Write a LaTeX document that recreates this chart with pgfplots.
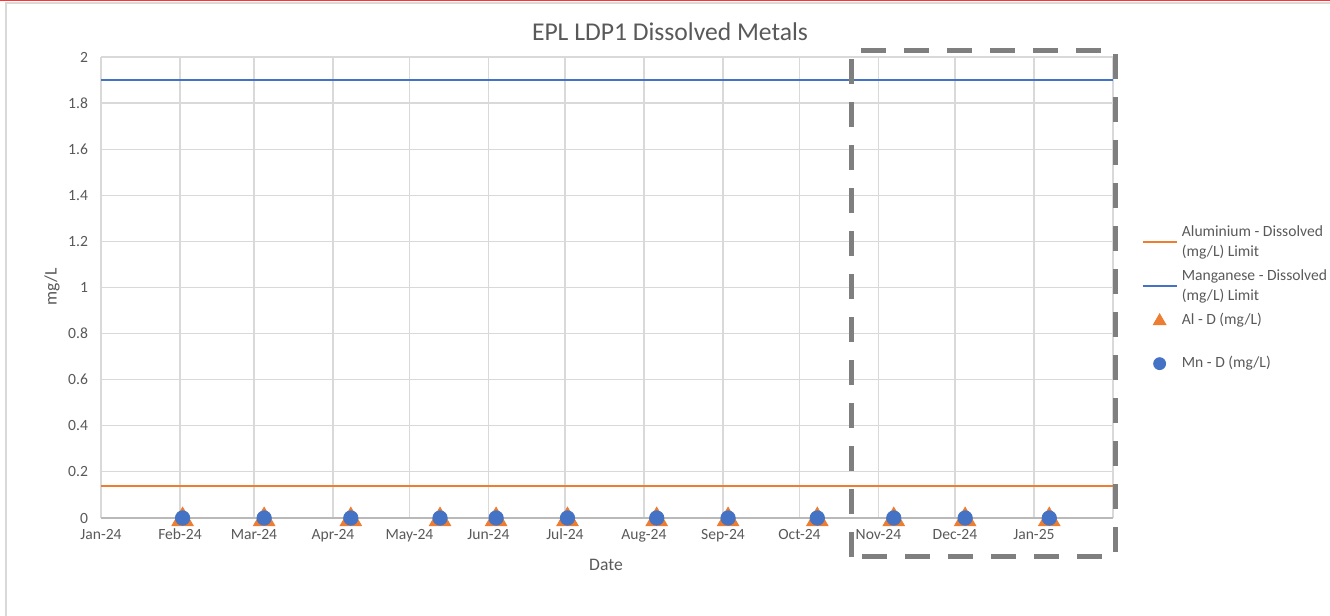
\documentclass[border=0pt]{standalone}
\usepackage{pgfplots}
\pgfplotsset{compat=1.18}
\usepackage{fontspec}
\setmainfont{Carlito}
\definecolor{xlorange}{HTML}{ED7D31}
\definecolor{xlblue}{HTML}{4472C4}
\definecolor{xlgrid}{HTML}{D9D9D9}
\definecolor{xltext}{HTML}{595959}
\definecolor{xlbox}{HTML}{7F7F7F}
\begin{document}
\begin{tikzpicture}[x=0.5pt,y=0.5pt]
% page frame, pixel coordinates (y up)
\useasboundingbox (0,0) rectangle (1330,616);
\draw[xlgrid, line width=1pt] (6,0) -- (6,613) -- (1330,613);
\draw[red!80, line width=1pt] (0,615.5) -- (1330,615.5);
\node[text=xltext, font=\fontsize{12.8}{15}\selectfont] at (670,584) {EPL LDP1 Dissolved Metals};
\node[text=xltext, font=\fontsize{8.8}{10}\selectfont] at (606,51) {Date};
\node[text=xltext, font=\fontsize{8.8}{10}\selectfont, rotate=90] at (52,329) {mg/L};
\begin{axis}[
    at={(50.5pt,49pt)}, anchor=south west,
    width=506pt, height=230.5pt, scale only axis,
    xmin=0, xmax=397, ymin=0, ymax=2,
    clip=false,
    xtick={0,31,60,91,121,152,182,213,244,274,305,335,366,397},
    xticklabels={Jan-24,Feb-24,Mar-24,Apr-24,May-24,Jun-24,Jul-24,Aug-24,Sep-24,Oct-24,Nov-24,Dec-24,Jan-25,},
    ytick={0,0.2,...,2},
    yticklabel style={/pgf/number format/fixed},
    /pgf/number format/assume math mode=true,
    major tick length=0pt,
    grid=major,
    grid style={xlgrid, line width=0.6pt},
    axis line style={draw=none},
    tick label style={text=xltext, font=\fontsize{7.8}{9.5}\selectfont},
    yticklabel style={xshift=-3pt},
    xticklabel style={yshift=-2pt},
    legend style={
        at={(1.0217,0.653)}, anchor=north west,
        draw=none, fill=none,
        font=\fontsize{7.8}{10}\selectfont,
        text=xltext,
        nodes={align=left, inner sep=2pt},
        row sep=1pt,
        legend cell align=left,
    },
]
\draw[color=gray!55, line width=0.6pt] (axis cs:0,0) -- (axis cs:397,0);
\addplot[xlorange, line width=1.2pt] coordinates {(0,0.14) (397,0.14)};
\addlegendentry{Aluminium - Dissolved\\(mg/L) Limit}
\addplot[xlblue, line width=1.2pt] coordinates {(0,1.9) (397,1.9)};
\addlegendentry{Manganese - Dissolved\\(mg/L) Limit}
\addplot[only marks, mark=triangle*, mark size=6.2pt, color=xlorange,
    mark options={fill=xlorange, draw=xlorange, yshift=-0.8pt},
    legend image post style={mark size=3.6pt, mark options={yshift=-0.4pt}}]
    coordinates {(32,0) (64,0) (98,0) (133,0) (155,0) (183,0)
                 (218,0) (246,0) (281,0) (311,0) (339,0) (372,0)};
\addlegendentry{Al - D (mg/L)}
% spacer row, as in the Excel legend
\addlegendimage{empty legend}
\addlegendentry{\rule{0pt}{3pt}}
\addplot[only marks, mark=*, mark size=3.6pt, color=xlblue,
    mark options={fill=xlblue, draw=xlblue},
    legend image post style={mark size=3pt}]
    coordinates {(32,0) (64,0) (98,0) (133,0) (155,0) (183,0)
                 (218,0) (246,0) (281,0) (311,0) (339,0) (372,0)};
\addlegendentry{Mn - D (mg/L)}
% highlight box for the last quarter
\draw[xlbox, line width=2.5pt, dash pattern=on 12.5pt off 9pt]
    (axis cs:294.6,-0.169) rectangle (axis cs:397.8,2.03);
\end{axis}
\end{tikzpicture}
\end{document}
